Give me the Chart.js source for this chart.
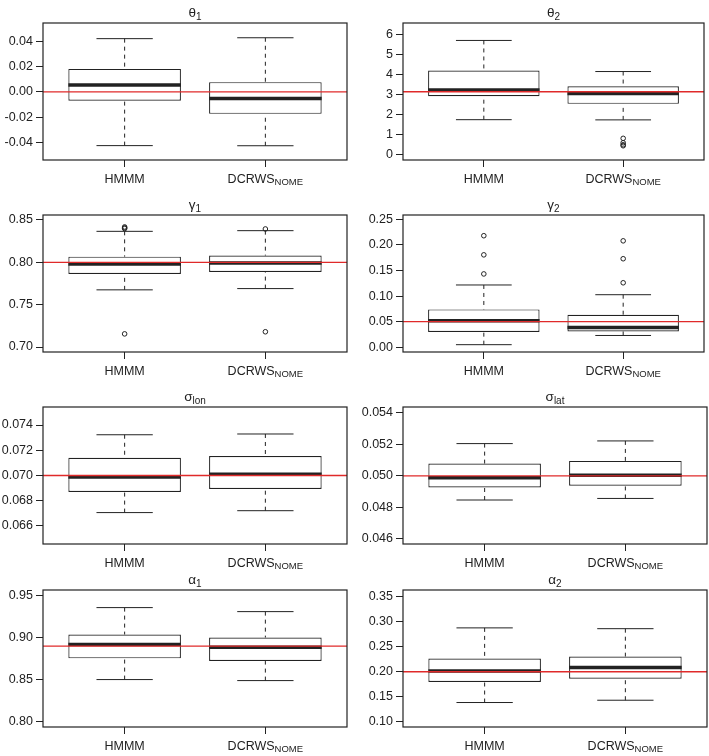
<!DOCTYPE html>
<html lang="en">
<head>
<meta charset="UTF-8">
<title>Boxplots HMMM vs DCRWS</title>
<script src="https://cdn.jsdelivr.net/npm/chart.js"></script>
<style>
  body { margin: 0; background: #fff; }
  #fig { position: relative; width: 709px; height: 756px; overflow: hidden; background: #fff; }
  #fig canvas { position: absolute; }
</style>
</head>
<body>
<div id="fig"></div>
<script>
// groups (x axis) and panel titles
const groupNames = ['HMMM', 'DCRWS'];
const groupSubs = ['', 'NOME'];
const panelSymbols = ['θ', 'θ', 'γ', 'γ', 'σ', 'σ', 'α', 'α'];
const panelSubs = ['1', '2', '1', '2', 'lon', 'lat', '1', '2'];

// true parameter values (red lines)
const trueValues = [0, 3.1416, 0.80, 0.05, 0.070, 0.050, 0.89, 0.20];

// box statistics per panel: [HMMM, DCRWS]
const whiskerLow = [[-0.0426, -0.0427], [1.75, 1.74], [0.7675, 0.769], [0.005, 0.023],
  [0.06706, 0.06721], [0.04846, 0.04856], [0.8502, 0.849], [0.1383, 0.1429]];
const quart1 = [[-0.0070, -0.0174], [2.92, 2.54], [0.7863, 0.7887], [0.030, 0.031],
  [0.06869, 0.06893], [0.04926, 0.04937], [0.8755, 0.8723], [0.1794, 0.186]];
const medians = [[0.0055, -0.0053], [3.23, 3.06], [0.798, 0.7993], [0.052, 0.0386],
  [0.06989, 0.07009], [0.04987, 0.05004], [0.8921, 0.8889], [0.2013, 0.2086]];
const quart3 = [[0.0182, 0.0077], [4.2, 3.42], [0.8067, 0.808], [0.074, 0.0635],
  [0.0714, 0.07154], [0.05078, 0.05095], [0.904, 0.9004], [0.2265, 0.2306]];
const whiskerHigh = [[0.0422, 0.0429], [5.70, 4.15], [0.8366, 0.8374], [0.1217, 0.1027],
  [0.07323, 0.07329], [0.05205, 0.05222], [0.9361, 0.9313], [0.288, 0.2864]];
const outliers = [
  [[], []],
  [[], [0.82, 0.6, 0.5, 0.45]],
  [[0.8418, 0.8408, 0.8398, 0.7155], [0.8394, 0.718]],
  [[0.1433, 0.1806, 0.218], [0.126, 0.173, 0.208]],
  [[], []], [[], []], [[], []], [[], []]
];

// y axes
const yTicks = [
  [-0.04, -0.02, 0, 0.02, 0.04],
  [0, 1, 2, 3, 4, 5, 6],
  [0.70, 0.75, 0.80, 0.85],
  [0, 0.05, 0.10, 0.15, 0.20, 0.25],
  [0.066, 0.068, 0.070, 0.072, 0.074],
  [0.046, 0.048, 0.050, 0.052, 0.054],
  [0.80, 0.85, 0.90, 0.95],
  [0.10, 0.15, 0.20, 0.25, 0.30, 0.35]
];
const yDecimals = [2, 0, 2, 2, 3, 3, 2, 2];
const yLimits = [[-0.054, 0.0546], [-0.26, 6.57], [0.6941, 0.8559], [-0.0093, 0.2585],
  [0.06457, 0.07543], [0.04566, 0.05438], [0.7936, 0.9571], [0.0892, 0.364]];

// look and layout
const FONT = "'Liberation Sans', Arial, Helvetica, sans-serif";
const INK = '#222';
const RED = '#e02a2a';
const X_RANGE = [0.42, 2.58];      // 0.5..2.5 plus R's 4% extension
const BOX_HALF = 0.4, CAP_HALF = 0.2;

const rowTop = [23, 215, 407, 590];
const colLeft = [0, 354], colWidth = [354, 355];
const axisWidth = [43, 49], padRight = [7, 2];
const AREA_H = 137, TITLE_H = 23, XAXIS_H = 28;

// text with an optional subscript, centred on cx
function drawSub(ctx, base, sub, cx, baseline, size, subSize, drop) {
  ctx.font = size + 'px ' + FONT;
  const w1 = ctx.measureText(base).width;
  ctx.font = subSize + 'px ' + FONT;
  const w2 = sub ? ctx.measureText(sub).width : 0;
  const x = cx - (w1 + w2) / 2;
  ctx.textAlign = 'left';
  ctx.textBaseline = 'alphabetic';
  ctx.fillStyle = INK;
  ctx.font = size + 'px ' + FONT;
  ctx.fillText(base, x, baseline);
  if (sub) {
    ctx.font = subSize + 'px ' + FONT;
    ctx.fillText(sub, x + w1, baseline + drop);
  }
}

const frameAndText = {
  id: 'frameAndText',
  afterDraw(chart, args, opts) {
    const { ctx, chartArea: a } = chart;
    const p = opts.panel;
    ctx.save();
    ctx.strokeStyle = INK;
    ctx.lineWidth = 1.2;
    ctx.strokeRect(a.left, a.top, a.right - a.left, a.bottom - a.top);
    drawSub(ctx, panelSymbols[p], panelSubs[p], (a.left + a.right) / 2, a.top - 6.5, 13.5, 10, 3);
    const xs = chart.scales.x;
    groupNames.forEach((g, i) => {
      drawSub(ctx, g, groupSubs[i], xs.getPixelForValue(i + 1), a.bottom + 23, 12.5, 9.5, 1.5);
    });
    ctx.restore();
  }
};

function seg(x0, y0, x1, y1, extra) {
  return Object.assign({
    type: 'line',
    data: [{ x: x0, y: y0 }, { x: x1, y: y1 }],
    borderColor: INK, borderWidth: 1, pointRadius: 0,
    borderCapStyle: 'butt', fill: false, tension: 0
  }, extra);
}

function buildDatasets(p) {
  const ds = [];
  ds.push({
    type: 'bar',
    data: groupNames.map((g, i) => ({ x: i + 1, y: [quart1[p][i], quart3[p][i]] })),
    backgroundColor: '#fff', borderColor: INK, borderWidth: 1.2, borderSkipped: false,
    categoryPercentage: 0.8, barPercentage: 1, order: 4
  });
  groupNames.forEach((g, i) => {
    const x = i + 1;
    ds.push(seg(x, whiskerHigh[p][i], x, quart3[p][i], { borderDash: [4, 4], order: 3 }));
    ds.push(seg(x, whiskerLow[p][i], x, quart1[p][i], { borderDash: [4, 4], order: 3 }));
    ds.push(seg(x - CAP_HALF, whiskerHigh[p][i], x + CAP_HALF, whiskerHigh[p][i], { order: 3 }));
    ds.push(seg(x - CAP_HALF, whiskerLow[p][i], x + CAP_HALF, whiskerLow[p][i], { order: 3 }));
    ds.push(seg(x - BOX_HALF, medians[p][i], x + BOX_HALF, medians[p][i], { borderWidth: 3.5, order: 2 }));
    ds.push({
      type: 'line', showLine: false,
      data: outliers[p][i].map(v => ({ x: x, y: v })),
      pointRadius: 2.3, pointBorderWidth: 1, pointBorderColor: INK,
      pointBackgroundColor: 'rgba(0,0,0,0)', order: 1
    });
  });
  ds.push(seg(X_RANGE[0], trueValues[p], X_RANGE[1], trueValues[p], { borderColor: RED, borderWidth: 1.3, order: 0 }));
  return ds;
}

const fig = document.getElementById('fig');
for (let p = 0; p < 8; p++) {
  const r = Math.floor(p / 2), c = p % 2;
  const cv = document.createElement('canvas');
  cv.width = colWidth[c];
  cv.height = TITLE_H + AREA_H + XAXIS_H;
  cv.style.left = colLeft[c] + 'px';
  cv.style.top = (rowTop[r] - TITLE_H) + 'px';
  cv.style.width = cv.width + 'px';
  cv.style.height = cv.height + 'px';
  fig.appendChild(cv);

  const tickGrid = {
    display: true, offset: false, drawOnChartArea: false, drawTicks: true,
    tickLength: 7, color: INK, lineWidth: 1
  };

  new Chart(cv, {
    type: 'bar',
    data: { datasets: buildDatasets(p) },
    options: {
      responsive: false,
      animation: false,
      events: [],
      layout: { padding: { top: TITLE_H, right: padRight[c], left: 0, bottom: 0 } },
      plugins: {
        legend: { display: false },
        tooltip: { enabled: false },
        frameAndText: { panel: p }
      },
      scales: {
        x: {
          type: 'linear', min: X_RANGE[0], max: X_RANGE[1], offset: false,
          afterBuildTicks: s => { s.ticks = groupNames.map((g, i) => ({ value: i + 1 })); },
          afterFit: s => { s.height = XAXIS_H; },
          grid: tickGrid,
          border: { display: false },
          ticks: { display: false }
        },
        y: {
          type: 'linear', min: yLimits[p][0], max: yLimits[p][1], beginAtZero: false,
          afterBuildTicks: s => { s.ticks = yTicks[p].map(v => ({ value: v })); },
          afterFit: s => { s.width = axisWidth[c]; },
          grid: tickGrid,
          border: { display: false },
          ticks: {
            autoSkip: false, padding: 3, color: INK,
            font: { family: FONT, size: 12.5 },
            callback: v => Number(v).toFixed(yDecimals[p])
          }
        }
      }
    },
    plugins: [frameAndText]
  });
}
</script>
</body>
</html>
